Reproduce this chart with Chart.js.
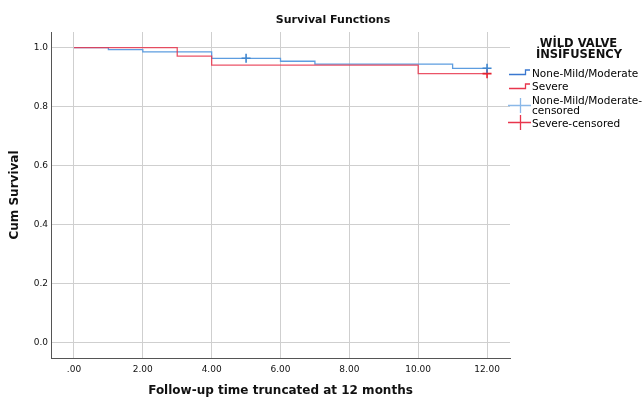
<!DOCTYPE html>
<html>
<head>
<meta charset="utf-8">
<script src="https://cdn.jsdelivr.net/npm/chart.js@4"></script>
<style>
  html, body { margin: 0; padding: 0; background: #ffffff; }
  #wrap { width: 644px; height: 397px; position: relative; }
</style>
</head>
<body>
<div id="wrap"><canvas id="km"></canvas></div>
<script>
// Kaplan-Meier estimates by group (time in months)
const mildTimes = [0, 1, 2, 4, 6, 7, 11, 12];
const mildSurv = [1.0, 0.993, 0.986, 0.964, 0.954, 0.944, 0.930, 0.930];
const severeTimes = [0, 3, 4, 10, 12];
const severeSurv = [1.0, 0.971, 0.941, 0.912, 0.912];

// Censored observations
const mildCensorTimes = [5, 12];
const mildCensorSurv = [0.964, 0.930];
const severeCensorTimes = [12];
const severeCensorSurv = [0.912];

const xTickValues = [0, 2, 4, 6, 8, 10, 12];
const yTickValues = [0, 0.2, 0.4, 0.6, 0.8, 1.0];

const legendTitle = ['WİLD VALVE', 'İNSİFUSENCY'];
const legendLabels = ['None-Mild/Moderate', 'Severe', 'None-Mild/Moderate-\ncensored', 'Severe-censored'];

const BLUE = '#5d9de0';
const RED = '#e8354c';
const BLUE_C = '#3f86cf';
const RED_C = '#e62230';
const FONT = '"DejaVu Sans", sans-serif';

const toPoints = (xs, ys) => xs.map((x, i) => ({ x: x, y: ys[i] }));

const overlay = {
  id: 'overlay',
  afterDraw(chart) {
    const ctx = chart.ctx;
    ctx.save();
    // chart title
    ctx.fillStyle = '#111';
    ctx.font = 'bold 11px ' + FONT;
    ctx.textAlign = 'center';
    ctx.textBaseline = 'middle';
    ctx.fillText('Survival Functions', 333, 20);

    // legend title
    ctx.font = 'bold 11.5px ' + FONT;
    ctx.fillText(legendTitle[0], 578.5, 44);
    ctx.fillText(legendTitle[1], 579, 55);

    // legend entries
    ctx.textAlign = 'left';
    ctx.font = '10.5px ' + FONT;
    ctx.fillStyle = '#000';
    const tx = 532;
    ctx.fillText(legendLabels[0], tx, 74);
    ctx.fillText(legendLabels[1], tx, 87.5);
    const parts = legendLabels[2].split('\n');
    ctx.fillText(parts[0], tx, 101);
    ctx.fillText(parts[1], tx, 111);
    ctx.fillText(legendLabels[3], tx, 124);

    // step icons
    ctx.lineWidth = 1.3;
    const step = (color, yLow, yHigh) => {
      ctx.strokeStyle = color;
      ctx.beginPath();
      ctx.moveTo(509, yLow);
      ctx.lineTo(525.5, yLow);
      ctx.lineTo(525.5, yHigh);
      ctx.lineTo(530, yHigh);
      ctx.stroke();
    };
    step('#3a78d0', 74.5, 70);
    step(RED, 88.5, 84);

    // cross icons
    const cross = (color, cx, cy) => {
      ctx.strokeStyle = color;
      ctx.lineWidth = 1.3;
      ctx.beginPath();
      ctx.moveTo(508, cy);
      ctx.lineTo(531, cy);
      ctx.moveTo(cx, cy - 7.5);
      ctx.lineTo(cx, cy + 7.5);
      ctx.stroke();
    };
    cross('#8ab8e8', 520.5, 105.5);
    cross(RED, 520.5, 122.5);
    ctx.restore();
  }
};

new Chart(document.getElementById('km'), {
  type: 'line',
  data: {
    datasets: [
      {
        label: 'None-Mild/Moderate',
        data: toPoints(mildTimes, mildSurv),
        borderColor: BLUE,
        borderWidth: 1.3,
        stepped: 'before',
        pointRadius: 0,
        fill: false,
        order: 2
      },
      {
        label: 'Severe',
        data: toPoints(severeTimes, severeSurv),
        borderColor: 'rgba(232,53,76,0.85)',
        borderWidth: 1.3,
        stepped: 'before',
        pointRadius: 0,
        fill: false,
        order: 1
      },
      {
        label: 'None-Mild/Moderate-censored',
        type: 'scatter',
        data: toPoints(mildCensorTimes, mildCensorSurv),
        pointStyle: 'cross',
        pointRadius: 4.5,
        borderColor: BLUE_C,
        borderWidth: 1.6,
        showLine: false,
        order: 0
      },
      {
        label: 'Severe-censored',
        type: 'scatter',
        data: toPoints(severeCensorTimes, severeCensorSurv),
        pointStyle: 'cross',
        pointRadius: 4.5,
        borderColor: RED_C,
        borderWidth: 1.6,
        showLine: false,
        order: 0
      }
    ]
  },
  options: {
    responsive: true,
    maintainAspectRatio: false,
    animation: false,
    events: [],
    layout: { padding: { top: 32, right: 134, left: 0, bottom: 0 } },
    plugins: {
      legend: { display: false },
      title: { display: false },
      tooltip: { enabled: false }
    },
    scales: {
      x: {
        type: 'linear',
        min: -0.667,
        max: 12.667,
        afterBuildTicks(scale) { scale.ticks = xTickValues.map(v => ({ value: v })); },
        afterFit(scale) { scale.height = 39; },
        grid: { color: '#cfcfcf', lineWidth: 1, drawTicks: false },
        border: { color: '#555', width: 1 },
        ticks: {
          padding: 6,
          color: '#111',
          font: { family: FONT, size: 9 },
          autoSkip: false,
          maxRotation: 0,
          callback: v => (v === 0 ? '.00' : v.toFixed(2))
        },
        title: {
          display: true,
          text: 'Follow-up time truncated at 12 months',
          color: '#111',
          font: { family: FONT, size: 12, weight: 'bold', lineHeight: 1 },
          padding: { top: 0, bottom: 0 }
        }
      },
      y: {
        type: 'linear',
        min: -0.051,
        max: 1.053,
        afterBuildTicks(scale) { scale.ticks = yTickValues.map(v => ({ value: v })); },
        afterFit(scale) { scale.width = 51; },
        grid: { color: '#cfcfcf', lineWidth: 1, drawTicks: false },
        border: { color: '#555', width: 1 },
        ticks: {
          padding: 3,
          color: '#111',
          font: { family: FONT, size: 9 },
          autoSkip: false,
          callback: v => v.toFixed(1)
        },
        title: {
          display: true,
          text: 'Cum Survival',
          color: '#111',
          font: { family: FONT, size: 12, weight: 'bold', lineHeight: 1 },
          padding: { top: 9, bottom: 0 }
        }
      }
    }
  },
  plugins: [overlay]
});
</script>
</body>
</html>
